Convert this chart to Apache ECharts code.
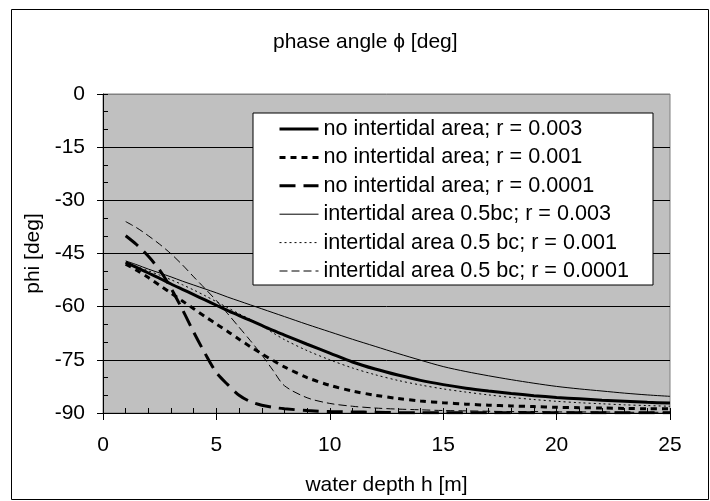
<!DOCTYPE html>
<html>
<head>
<meta charset="utf-8">
<script src="https://cdn.jsdelivr.net/npm/echarts@6/dist/echarts.min.js"></script>
<style>html,body{margin:0;padding:0;background:#fff;}#c{width:710px;height:501px;}</style>
</head>
<body>
<div id="c"></div>
<script>
const h = [1,1.5,2,2.5,3,3.5,4,4.5,5,5.5,6,6.5,7,7.5,8,9,10,11,12,13,14,15,16,17,18,19,20,21,22,23,24,25];
const seriesNames = [
  'no intertidal area; r = 0.003',
  'no intertidal area; r = 0.001',
  'no intertidal area; r = 0.0001',
  'intertidal area 0.5bc; r = 0.003',
  'intertidal area 0.5 bc; r = 0.001',
  'intertidal area 0.5 bc; r = 0.0001'
];
const noTidal003 = [-47.5,-49.0,-50.5,-52.0,-53.6,-55.1,-56.6,-58.1,-59.6,-61.1,-62.5,-63.9,-65.3,-66.7,-68.0,-70.6,-73.1,-75.6,-77.6,-79.3,-80.8,-82.0,-83.0,-83.8,-84.5,-85.1,-85.6,-86.0,-86.4,-86.7,-87.0,-87.2];
const noTidal001 = [-48.0,-49.8,-51.8,-54.0,-56.2,-58.4,-60.6,-62.8,-64.9,-67.0,-69.2,-71.3,-73.3,-75.2,-77.0,-80.0,-82.2,-83.8,-85.0,-85.9,-86.6,-87.1,-87.5,-87.8,-88.0,-88.2,-88.4,-88.5,-88.6,-88.7,-88.8,-88.8];
const noTidal0001 = [-40.0,-42.6,-45.8,-49.7,-54.8,-60.8,-67.2,-73.2,-78.6,-82.0,-85.0,-86.8,-87.8,-88.4,-88.8,-89.3,-89.6,-89.7,-89.8,-89.9,-89.9,-89.9,-89.9,-89.9,-89.9,-89.9,-89.9,-89.9,-89.9,-89.9,-89.9,-89.9];
const tidal003 = [-47.1,-48.2,-49.4,-50.5,-51.6,-52.8,-53.9,-55.0,-56.1,-57.3,-58.4,-59.5,-60.6,-61.7,-62.8,-65.0,-67.1,-69.2,-71.2,-73.2,-75.1,-76.9,-78.3,-79.5,-80.6,-81.6,-82.5,-83.2,-83.8,-84.4,-84.9,-85.3];
const tidal001 = [-47.6,-48.7,-49.9,-51.1,-52.4,-53.8,-55.3,-56.9,-58.6,-60.3,-62.0,-63.6,-65.4,-67.4,-69.3,-72.4,-75.0,-77.3,-79.2,-80.8,-82.1,-83.2,-84.1,-84.9,-85.6,-86.2,-86.7,-87.1,-87.4,-87.7,-87.9,-88.1];
const tidal0001 = [-36.0,-37.8,-40.0,-42.4,-45.1,-48.2,-51.6,-54.9,-58.3,-62.0,-65.8,-69.6,-73.6,-78.0,-82.3,-85.7,-87.3,-88.1,-88.6,-88.9,-89.1,-89.3,-89.4,-89.5,-89.6,-89.6,-89.7,-89.7,-89.7,-89.8,-89.8,-89.8];
const allValues = [noTidal003, noTidal001, noTidal0001, tidal003, tidal001, tidal0001];
const lineStyles = [
  {width: 3, type: 'solid'},
  {width: 3, type: [6, 5]},
  {width: 3, type: [16, 8]},
  {width: 1, type: 'solid'},
  {width: 1, type: [2, 3]},
  {width: 1, type: [8, 4]}
];

const FONT = "'Liberation Sans', Arial, sans-serif";
const chart = echarts.init(document.getElementById('c'), null, {renderer: 'canvas'});

const series = allValues.map((vals, i) => ({
  name: seriesNames[i],
  type: 'line',
  xAxisIndex: 0,
  yAxisIndex: 0,
  data: h.map((x, j) => [x, vals[j]]),
  symbol: 'none',
  smooth: 0.3,
  color: '#000000',
  lineStyle: Object.assign({color: '#000000'}, lineStyles[i]),
  z: 3
}));

const axisCommonX = {min: 0, max: 25, interval: 5, type: 'value'};
const axisCommonY = {min: -90, max: 0, interval: 15, type: 'value'};

chart.setOption({
  animation: false,
  backgroundColor: '#ffffff',
  title: {
    text: 'phase angle ϕ [deg]',
    left: 273,
    top: 32,
    padding: 0,
    textStyle: {fontFamily: FONT, fontSize: 21, fontWeight: 'normal', color: '#000'}
  },
  grid: {
    left: 103, top: 94, width: 567, height: 320,
    show: true, backgroundColor: '#c0c0c0', borderColor: '#808080', borderWidth: 1,
    containLabel: false
  },
  legend: {
    orient: 'vertical',
    left: 253,
    top: 113,
    backgroundColor: '#ffffff',
    borderColor: '#000000',
    borderWidth: 1,
    padding: [5, 24, 3, 25],
    itemWidth: 39,
    itemHeight: 14,
    itemGap: 6.4,
    itemStyle: {opacity: 0, borderWidth: 0},
    lineStyle: {width: 'inherit', type: 'inherit', color: 'inherit'},
    textStyle: {fontFamily: FONT, fontSize: 21.6, color: '#000', lineHeight: 21},
    data: seriesNames
  },
  xAxis: [
    Object.assign({}, axisCommonX, {
      position: 'bottom',
      name: 'water depth h [m]',
      nameLocation: 'middle',
      nameGap: 62,
      nameTextStyle: {fontFamily: FONT, fontSize: 21, color: '#000'},
      axisLine: {show: true, onZero: false, lineStyle: {color: '#000', width: 1}},
      axisTick: {show: true, inside: true, length: 5, lineStyle: {color: '#000'}},
      minorTick: {show: true, splitNumber: 5, length: 5, lineStyle: {color: '#000'}},
      axisLabel: {fontFamily: FONT, fontSize: 21, color: '#000', margin: 22},
      splitLine: {show: false}
    }),
    Object.assign({}, axisCommonX, {
      position: 'bottom',
      axisLine: {show: false, onZero: false},
      axisTick: {show: true, inside: false, length: 7, lineStyle: {color: '#000'}},
      axisLabel: {show: false},
      splitLine: {show: false}
    })
  ],
  yAxis: [
    Object.assign({}, axisCommonY, {
      position: 'left',
      name: 'phi [deg]',
      nameLocation: 'middle',
      nameGap: 53,
      nameTextStyle: {fontFamily: FONT, fontSize: 21, color: '#000'},
      axisLine: {show: true, onZero: false, lineStyle: {color: '#000', width: 1}},
      axisTick: {show: true, inside: true, length: 5, lineStyle: {color: '#000'}},
      minorTick: {show: true, splitNumber: 3, length: 5, lineStyle: {color: '#000'}},
      axisLabel: {fontFamily: FONT, fontSize: 21, color: '#000', margin: 18},
      splitLine: {show: true, lineStyle: {color: ['#000000','#000000','#000000','#000000','#000000','#000000','#808080'], width: 1}}
    }),
    Object.assign({}, axisCommonY, {
      position: 'left',
      axisLine: {show: false, onZero: false},
      axisTick: {show: true, inside: false, length: 6, lineStyle: {color: '#000'}},
      axisLabel: {show: false},
      splitLine: {show: false}
    })
  ],
  graphic: [{
    type: 'rect',
    silent: true,
    z: 100,
    shape: {x: 11.5, y: 9.5, width: 697, height: 490},
    style: {fill: null, stroke: '#000', lineWidth: 1}
  }],
  series: series
});
</script>
</body>
</html>
